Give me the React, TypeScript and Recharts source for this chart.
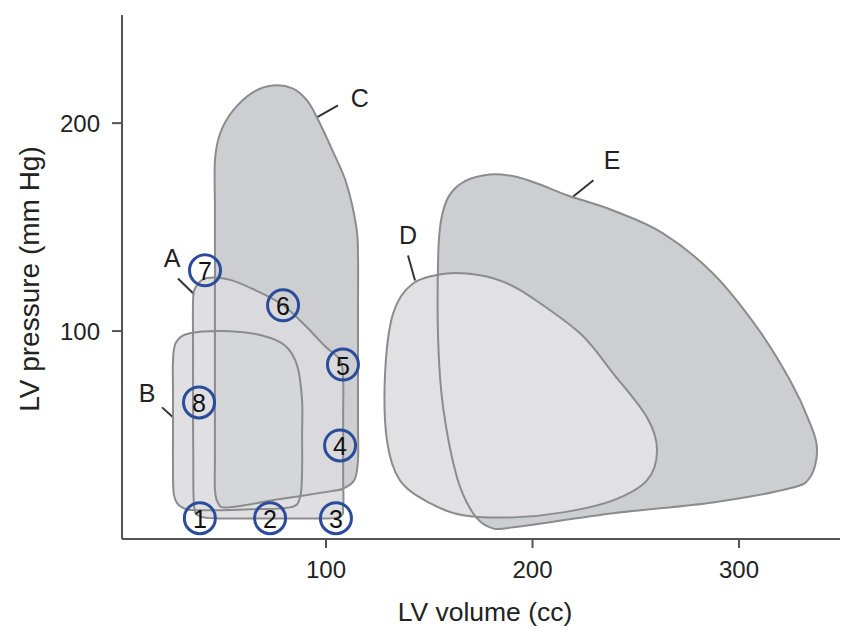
import React from 'react';
import { ReferenceLine, Scatter, ScatterChart, XAxis, YAxis } from 'recharts';

type Pt = { x: number; y: number };

// loop outlines (LV volume cc, LV pressure mm Hg)
const loopA: Pt[] = [
  { x: 35.6, y: 114.8 }, { x: 36.6, y: 120.5 }, { x: 40.4, y: 124.9 }, { x: 46.2, y: 125.8 },
  { x: 54.5, y: 124.4 }, { x: 68.0, y: 118.6 }, { x: 79.2, y: 112.4 }, { x: 89.8, y: 102.8 },
  { x: 99.5, y: 92.7 }, { x: 106.8, y: 86.0 }, { x: 108.3, y: 76.3 }, { x: 108.3, y: 60.0 },
  { x: 108.3, y: 42.7 }, { x: 108.3, y: 28.0 }, { x: 108.3, y: 16.2 }, { x: 105.9, y: 10.4 },
  { x: 87.4, y: 9.9 }, { x: 68.0, y: 9.9 }, { x: 48.7, y: 9.9 }, { x: 39.0, y: 10.9 },
  { x: 36.1, y: 16.2 }, { x: 35.7, y: 40.0 }, { x: 35.6, y: 66.7 }, { x: 35.6, y: 90.0 },
];

const loopB: Pt[] = [
  { x: 25.9, y: 85.9 }, { x: 27.4, y: 94.6 }, { x: 34.1, y: 98.9 }, { x: 53.5, y: 99.9 },
  { x: 69.0, y: 97.9 }, { x: 80.1, y: 93.1 }, { x: 86.0, y: 83.5 }, { x: 88.4, y: 66.7 },
  { x: 88.4, y: 50.0 }, { x: 88.4, y: 33.0 }, { x: 87.4, y: 20.0 }, { x: 82.6, y: 15.2 },
  { x: 63.2, y: 14.3 }, { x: 39.0, y: 13.8 }, { x: 30.3, y: 15.2 }, { x: 26.4, y: 21.0 },
  { x: 25.9, y: 36.0 }, { x: 25.9, y: 52.3 }, { x: 25.9, y: 70.0 },
];

const loopC: Pt[] = [
  { x: 46.2, y: 182.0 }, { x: 48.7, y: 195.0 }, { x: 55.0, y: 206.1 }, { x: 64.6, y: 214.8 },
  { x: 74.3, y: 218.1 }, { x: 83.8, y: 216.7 }, { x: 90.8, y: 210.9 }, { x: 95.6, y: 202.7 },
  { x: 103.1, y: 186.9 }, { x: 109.9, y: 171.0 }, { x: 114.7, y: 149.9 }, { x: 115.5, y: 135.0 },
  { x: 115.5, y: 115.0 }, { x: 115.5, y: 85.0 }, { x: 115.5, y: 55.0 }, { x: 115.5, y: 38.0 },
  { x: 113.8, y: 28.5 }, { x: 108.5, y: 24.3 }, { x: 101.9, y: 22.9 }, { x: 77.0, y: 19.1 },
  { x: 52.5, y: 15.2 }, { x: 47.6, y: 17.6 }, { x: 46.2, y: 24.0 }, { x: 46.2, y: 40.0 },
  { x: 46.2, y: 70.0 }, { x: 46.2, y: 100.0 }, { x: 46.2, y: 130.0 }, { x: 46.2, y: 160.0 },
];

const loopD: Pt[] = [
  { x: 158.6, y: 127.7 }, { x: 174.6, y: 126.8 }, { x: 187.7, y: 122.9 }, { x: 198.8, y: 116.7 },
  { x: 223.0, y: 98.9 }, { x: 239.0, y: 79.7 }, { x: 255.4, y: 58.5 }, { x: 260.3, y: 42.7 },
  { x: 255.4, y: 28.2 }, { x: 239.0, y: 18.6 }, { x: 214.8, y: 12.8 }, { x: 190.6, y: 10.4 },
  { x: 166.4, y: 11.4 }, { x: 150.4, y: 17.2 }, { x: 135.8, y: 28.2 }, { x: 129.5, y: 47.4 },
  { x: 128.6, y: 79.7 }, { x: 132.5, y: 108.5 }, { x: 142.1, y: 122.9 },
];

const loopE: Pt[] = [
  { x: 159.5, y: 164.9 }, { x: 167.3, y: 172.1 }, { x: 179.4, y: 175.3 }, { x: 191.5, y: 174.3 },
  { x: 203.6, y: 170.5 }, { x: 216.7, y: 165.3 }, { x: 239.0, y: 158.0 }, { x: 263.2, y: 147.0 },
  { x: 287.4, y: 127.7 }, { x: 308.7, y: 101.8 }, { x: 324.7, y: 76.3 }, { x: 334.4, y: 55.6 },
  { x: 337.8, y: 42.7 }, { x: 334.4, y: 29.7 }, { x: 324.7, y: 24.4 }, { x: 287.4, y: 17.6 },
  { x: 239.0, y: 12.4 }, { x: 190.6, y: 5.6 }, { x: 179.4, y: 5.6 }, { x: 171.2, y: 12.4 },
  { x: 163.4, y: 29.7 }, { x: 156.7, y: 63.3 }, { x: 154.3, y: 95.5 }, { x: 154.3, y: 135.4 },
  { x: 155.7, y: 153.2 },
];

const markers = [
  { x: 38.9, y: 10.0, n: '1' },
  { x: 72.9, y: 10.0, n: '2' },
  { x: 104.8, y: 10.0, n: '3' },
  { x: 106.8, y: 45.0, n: '4' },
  { x: 108.2, y: 83.9, n: '5' },
  { x: 79.2, y: 112.4, n: '6' },
  { x: 41.4, y: 129.2, n: '7' },
  { x: 38.5, y: 65.7, n: '8' },
];

const letters = [
  { x: 25.4, y: 135.0, t: 'A' },
  { x: 13.4, y: 70.0, t: 'B' },
  { x: 116.4, y: 211.9, t: 'C' },
  { x: 139.7, y: 146.0, t: 'D' },
  { x: 238.5, y: 182.1, t: 'E' },
];

const leaders: [Pt, Pt][] = [
  [{ x: 28.3, y: 125.3 }, { x: 36.6, y: 117.2 }],
  [{ x: 20.6, y: 63.3 }, { x: 25.9, y: 58.5 }],
  [{ x: 94.7, y: 202.3 }, { x: 105.8, y: 208.5 }],
  [{ x: 139.7, y: 136.3 }, { x: 143.1, y: 124.3 }],
  [{ x: 229.5, y: 172.5 }, { x: 219.1, y: 164.2 }],
];

const xTicks = [100, 200, 300];
const yTicks = [100, 200];

const FONT = '"Liberation Sans", Arial, Helvetica, sans-serif';
const DARK = '#cdced1';
const LIGHT = '#e1e1e3';
const EDGE = '#8c8c8f';
const AXIS = '#555';
const INK = '#222';
const BLUE = '#2b4c9b';

// closed catmull-rom through the scaled points
function smoothClosed(points: { x: number; y: number }[]) {
  const n = points.length;
  if (!n) return '';
  let d = `M${points[0].x},${points[0].y}`;
  for (let i = 0; i < n; i++) {
    const p0 = points[(i - 1 + n) % n];
    const p1 = points[i];
    const p2 = points[(i + 1) % n];
    const p3 = points[(i + 2) % n];
    const c1x = p1.x + (p2.x - p0.x) / 6;
    const c1y = p1.y + (p2.y - p0.y) / 6;
    const c2x = p2.x - (p3.x - p1.x) / 6;
    const c2y = p2.y - (p3.y - p1.y) / 6;
    d += `C${c1x},${c1y} ${c2x},${c2y} ${p2.x},${p2.y}`;
  }
  return d + 'Z';
}

const noShape = () => <g />;

const fillLoop = (fill: string, opacity = 1, clip?: string) => (props: any) => (
  <path d={smoothClosed(props.points)} fill={fill} fillOpacity={opacity} stroke="none" clipPath={clip} />
);

const fillWithClip = (fill: string, id: string) => (props: any) => {
  const d = smoothClosed(props.points);
  return (
    <g>
      <defs>
        <clipPath id={id}>
          <path d={d} />
        </clipPath>
      </defs>
      <path d={d} fill={fill} stroke="none" />
    </g>
  );
};

const edgeLoop = (props: any) => (
  <path d={smoothClosed(props.points)} fill="none" stroke={EDGE} strokeWidth={2} />
);

const markerShape = (props: any) => (
  <g>
    <circle cx={props.cx} cy={props.cy} r={15.5} fill="none" stroke={BLUE} strokeWidth={3} />
    <text x={props.cx} y={props.cy + 1} textAnchor="middle" dominantBaseline="central" fontSize={25} fontFamily={FONT} fill="#111">
      {props.payload.n}
    </text>
  </g>
);

const letterShape = (props: any) => (
  <text x={props.cx} y={props.cy} textAnchor="middle" dominantBaseline="central" fontSize={25} fontFamily={FONT} fill={INK}>
    {props.payload.t}
  </text>
);

const YTitle = (p: any) => {
  const vb = p.viewBox;
  const cx = vb.x + 29;
  const cy = vb.y + vb.height / 2 + 2;
  return (
    <text x={cx} y={cy} transform={`rotate(-90, ${cx}, ${cy})`} textAnchor="middle" dominantBaseline="central" fontSize={28} fontFamily={FONT} fill={INK}>
      LV pressure (mm Hg)
    </text>
  );
};

export default function App() {
  const tickStyle = { fill: INK, fontSize: 24, fontFamily: FONT };
  return (
    <div style={{ position: 'absolute', left: 0, top: 0, width: 841, height: 628, background: '#fff' }}>
      <ScatterChart width={841} height={628} margin={{ top: 15, right: 1, bottom: 0, left: 0 }}>
        <XAxis
          type="number"
          dataKey="x"
          domain={[1.2, 348.9]}
          ticks={xTicks}
          allowDataOverflow
          height={89}
          tickSize={9}
          tickMargin={13}
          axisLine={{ stroke: AXIS, strokeWidth: 2 }}
          tickLine={{ stroke: AXIS, strokeWidth: 2 }}
          tick={tickStyle}
          label={{ value: 'LV volume (cc)', position: 'insideBottom', offset: 7, dx: 4, fill: INK, fontSize: 26.5, fontFamily: FONT }}
        />
        <YAxis
          type="number"
          dataKey="y"
          domain={[0, 252]}
          ticks={yTicks}
          allowDataOverflow
          width={122}
          tickSize={10}
          tickMargin={12}
          axisLine={{ stroke: AXIS, strokeWidth: 2 }}
          tickLine={{ stroke: AXIS, strokeWidth: 2 }}
          tick={tickStyle}
          label={{ content: YTitle }}
        />

        {/* fills */}
        <Scatter data={loopC} shape={noShape} line={fillLoop(DARK)} isAnimationActive={false} />
        <Scatter data={loopA} shape={noShape} line={fillLoop('#dcdcdf', 0.9)} isAnimationActive={false} />
        <Scatter data={loopB} shape={noShape} line={fillWithClip('#e0e0e3', 'clip-b')} isAnimationActive={false} />
        <Scatter data={loopC} shape={noShape} line={fillLoop(DARK, 0.6, 'url(#clip-b)')} isAnimationActive={false} />
        <Scatter data={loopE} shape={noShape} line={fillLoop(DARK)} isAnimationActive={false} />
        <Scatter data={loopD} shape={noShape} line={fillLoop(LIGHT)} isAnimationActive={false} />

        {/* outlines */}
        <Scatter data={loopC} shape={noShape} line={edgeLoop} isAnimationActive={false} />
        <Scatter data={loopA} shape={noShape} line={edgeLoop} isAnimationActive={false} />
        <Scatter data={loopB} shape={noShape} line={edgeLoop} isAnimationActive={false} />
        <Scatter data={loopE} shape={noShape} line={edgeLoop} isAnimationActive={false} />
        <Scatter data={loopD} shape={noShape} line={edgeLoop} isAnimationActive={false} />

        {leaders.map((seg, i) => (
          <ReferenceLine key={i} segment={seg} stroke="#333" strokeWidth={2} />
        ))}

        <Scatter data={markers} shape={markerShape} isAnimationActive={false} />
        <Scatter data={letters} shape={letterShape} isAnimationActive={false} />
      </ScatterChart>
    </div>
  );
}
